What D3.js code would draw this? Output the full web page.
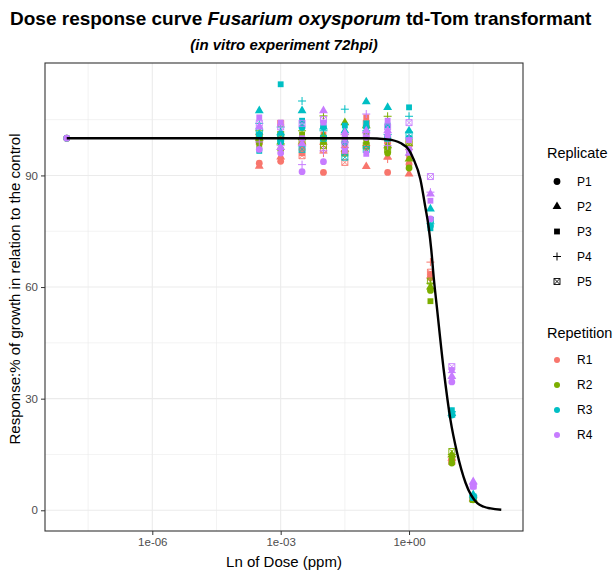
<!DOCTYPE html>
<html>
<head>
<meta charset="utf-8">
<script src="https://cdn.jsdelivr.net/npm/d3@7"></script>
<style>
  body { margin: 0; background: #fff; }
  text { font-family: "Liberation Sans", Arial, sans-serif; }
</style>
</head>
<body>
<div id="chart"></div>
<script>
//data
const doses = [1e-8, 3.16e-4, 1e-3, 3.16e-3, 1e-2, 3.16e-2, 1e-1, 0.316, 1, 3.16, 10, 31.6];
const replicates = ["P1", "P2", "P3", "P4", "P5"];
const repetitions = ["R1", "R2", "R3", "R4"];

// one row per dose, values for P1..P5 (null = not measured)
const responseR1 = [
    [100, null, null, null, null],
    [93.3, 92.5, 100, 101, 99],
    [93.8, 95, 100, 97, 104],
    [97, 99, 96, 98, 95.3],
    [90.8, 98.9, 101, 96, 97],
    [96, 97, 98, 97.5, 93.5],
    [97.5, 92.4, 105.6, 98, 104],
    [90.8, 95, 99, 94.4, 99.3],
    [93, 90.4, 95, 97, 98.5],
    [62.5, 63, 63.5, 66.7, 64],
    [13.5, 14, 13, 14.5, 13.1],
    [3, 3.2, 2.8, 3.4, 3.1]
];
const responseR2 = [
    [100, null, null, null, null],
    [99, 100, 98, 102, 100.5],
    [97, 99, 98.9, 100, 101],
    [100, 100.2, 101, 102, 99],
    [100, 100.7, 99, 106, 98],
    [99, 104.2, 100, 101, 96],
    [101.5, 103.4, 99, 100, 98],
    [96, 98, 97.5, 105.9, 97],
    [92, 94.4, 96, 98, 99],
    [59.1, 60, 56.2, 61, 61.6],
    [12.7, 14.9, 14, 15, 15.8],
    [2.8, 3, 3.1, 3.3, 2.9]
];
const responseR3 = [
    [100, null, null, null, null],
    [101, 107.4, 96.6, 104, 102],
    [99, 101.5, 114.5, 103, 100],
    [102.9, 107.4, 104.7, 110, 97],
    [103, 103, 104, 102, 100],
    [98.9, 102, 103.4, 107.8, 94.9],
    [103, 109.8, 104, 102, 97],
    [100, 108.3, 103.4, 101, 100],
    [100, 102, 108.3, 105.9, 101],
    [76.5, 81, 75.8, 77, 78],
    [25.6, 26, 26.9, 26.5, 25.8],
    [3.5, 4.2, 3.3, 4, 3.6]
];
const responseR4 = [
    [100, null, null, null, null],
    [97, 103, 105.6, 99, 104],
    [96, 97.5, 104.2, 98, 103],
    [91, 98.5, 100, 92.9, 104],
    [93.7, 107.4, 104.2, 96.6, 105],
    [100, 101.5, 96.6, 99, 98],
    [100.2, 102, 95.8, 106.5, 101],
    [100.7, 102, 104.7, 98, 103],
    [97, 96, 99.5, 100, 104.2],
    [78.3, 85, 83.2, 85.5, 89.7],
    [34.5, 36, 37.7, 37, 38.6],
    [6.4, 7.7, 6.8, 7, 6.5]
];

// fitted dose response curve
const curveDose = [1e-8, 1e-2, 0.1, 0.316, 0.631, 1, 1.26, 1.84, 2.4, 2.88, 3.31, 3.78, 4.53, 6.46, 9.29, 13.3, 20.9, 39.3, 56, 80.4, 143];
const curveResponse = [100, 100, 100, 99.7, 98.7, 96.8, 94.5, 89, 81.5, 76, 70, 62.5, 54, 37.7, 24.3, 15.4, 7.4, 1.9, 0.95, 0.5, 0.15];

const xTicks = [1e-6, 1e-3, 1];
const xMinor = [Math.pow(10, -7.5), Math.pow(10, -4.5), Math.pow(10, -1.5), Math.pow(10, 1.5)];
const yTicks = [0, 30, 60, 90];
const yMinor = [15, 45, 75, 105];

const colors = ["#F8766D", "#7CAE00", "#00BFC4", "#C77CFF"];

//setup
var panel = {
        left: 45,
        top: 63,
        right: 523,
        bottom: 531
    },
    width = panel.right - panel.left,
    height = panel.bottom - panel.top;

const svg = d3.select("#chart").append("svg")
    .attr("width", 613)
    .attr("height", 571);

const g = svg.append("g")
    .attr("transform", "translate(" + panel.left + "," + panel.top + ")");

// flatten points
const allSeries = [responseR1, responseR2, responseR3, responseR4];
let points = [];
allSeries.forEach((rows, ri) => {
    rows.forEach((row, di) => {
        row.forEach((v, pi) => {
            if (v !== null) points.push({dose: doses[di], value: v, rep: ri, repl: replicates[pi]});
        });
    });
});

// scales with ggplot style 5% expansion
const logExt = d3.extent(doses.concat(curveDose), d => Math.log10(d));
const lx = (logExt[1] - logExt[0]) * 0.05;
const x = d3.scaleLog()
    .domain([Math.pow(10, logExt[0] - lx), Math.pow(10, logExt[1] + lx)])
    .range([0, width]);

const yExt = d3.extent(points.map(d => d.value).concat(curveResponse));
const ly = (yExt[1] - yExt[0]) * 0.05;
const y = d3.scaleLinear()
    .domain([yExt[0] - ly, yExt[1] + ly])
    .range([height, 0]);

// grid
g.selectAll(".minorY").data(yMinor).enter().append("line")
    .attr("x1", 0).attr("x2", width)
    .attr("y1", d => y(d)).attr("y2", d => y(d))
    .attr("stroke", "#ebebeb").attr("stroke-width", 0.6);
g.selectAll(".minorX").data(xMinor).enter().append("line")
    .attr("y1", 0).attr("y2", height)
    .attr("x1", d => x(d)).attr("x2", d => x(d))
    .attr("stroke", "#ebebeb").attr("stroke-width", 0.6);
g.selectAll(".majorY").data(yTicks).enter().append("line")
    .attr("x1", 0).attr("x2", width)
    .attr("y1", d => y(d)).attr("y2", d => y(d))
    .attr("stroke", "#ebebeb").attr("stroke-width", 1.1);
g.selectAll(".majorX").data(xTicks).enter().append("line")
    .attr("y1", 0).attr("y2", height)
    .attr("x1", d => x(d)).attr("x2", d => x(d))
    .attr("stroke", "#ebebeb").attr("stroke-width", 1.1);

// points
function drawShape(sel, shape, color) {
    if (shape === "P1") {
        sel.append("circle").attr("r", 3.4).attr("fill", color);
    } else if (shape === "P2") {
        sel.append("path").attr("d", d3.symbol(d3.symbolTriangle, 34)()).attr("fill", color);
    } else if (shape === "P3") {
        sel.append("path").attr("d", d3.symbol(d3.symbolSquare, 34)()).attr("fill", color);
    } else if (shape === "P4") {
        sel.append("path").attr("d", "M-4,0H4M0,-4V4")
            .attr("stroke", color).attr("stroke-width", 1).attr("fill", "none");
    } else {
        sel.append("path").attr("d", "M-3,-3H3V3H-3ZM-3,-3L3,3M3,-3L-3,3")
            .attr("stroke", color).attr("stroke-width", 0.9).attr("fill", "none");
    }
}

points.forEach(p => {
    const s = g.append("g")
        .attr("transform", "translate(" + x(p.dose) + "," + y(p.value) + ")");
    drawShape(s, p.repl, colors[p.rep]);
});

// curve
const curveData = curveDose.map((d, i) => ({dose: d, value: curveResponse[i]}));
g.append("path")
    .datum(curveData)
    .attr("fill", "none")
    .attr("stroke", "#000")
    .attr("stroke-width", 2.4)
    .attr("d", d3.line()
        .x(d => x(d.dose))
        .y(d => y(d.value))
        .curve(d3.curveMonotoneX));

// panel border
g.append("rect")
    .attr("width", width).attr("height", height)
    .attr("fill", "none").attr("stroke", "#333").attr("stroke-width", 1.1);

// axes
function fmtExp(d) {
    const e = Math.round(Math.log10(d));
    return "1e" + (e < 0 ? "-" : "+") + String(Math.abs(e)).padStart(2, "0");
}
const xAxis = g.append("g")
    .attr("transform", "translate(0," + height + ")")
    .call(d3.axisBottom(x).tickValues(xTicks).tickFormat(fmtExp).tickSize(4).tickPadding(3));
const yAxis = g.append("g")
    .call(d3.axisLeft(y).tickValues(yTicks).tickSize(4).tickPadding(3));
[xAxis, yAxis].forEach(a => {
    a.select(".domain").remove();
    a.selectAll("line").attr("stroke", "#333");
    a.selectAll("text").attr("fill", "#4d4d4d")
        .style("font-size", "11.5px")
        .style("font-family", "Liberation Sans, Arial, sans-serif");
});

// titles
const title = svg.append("text")
    .attr("x", 10).attr("y", 25)
    .style("font-size", "19px").style("font-weight", "bold");
title.append("tspan").text("Dose response curve ");
title.append("tspan").style("font-style", "italic").text("Fusarium oxysporum");
title.append("tspan").text(" td-Tom transformant");

svg.append("text")
    .attr("x", panel.left + width / 2).attr("y", 50)
    .attr("text-anchor", "middle")
    .style("font-size", "15px").style("font-weight", "bold").style("font-style", "italic")
    .text("(in vitro experiment 72hpi)");

svg.append("text")
    .attr("x", panel.left + width / 2).attr("y", 567)
    .attr("text-anchor", "middle")
    .style("font-size", "15px")
    .text("Ln of Dose (ppm)");

svg.append("text")
    .attr("transform", "translate(20,289) rotate(-90)")
    .attr("text-anchor", "middle")
    .style("font-size", "15px")
    .text("Response:% of growth in relation to the control");

// legends
const leg1 = svg.append("g").attr("transform", "translate(547,0)");
leg1.append("text").attr("x", 0).attr("y", 158).style("font-size", "14.5px").text("Replicate");
replicates.forEach((r, i) => {
    const cy = 181.5 + i * 25;
    const s = leg1.append("g").attr("transform", "translate(10," + cy + ")");
    drawShape(s, r, "#000");
    leg1.append("text").attr("x", 30).attr("y", cy + 4.2).style("font-size", "12px").text(r);
});

const leg2 = svg.append("g").attr("transform", "translate(547,0)");
leg2.append("text").attr("x", 0).attr("y", 338).style("font-size", "14.5px").text("Repetition");
repetitions.forEach((r, i) => {
    const cy = 360 + i * 25;
    leg2.append("circle").attr("cx", 10).attr("cy", cy).attr("r", 3).attr("fill", colors[i]);
    leg2.append("text").attr("x", 30).attr("y", cy + 4.2).style("font-size", "12px").text(r);
});
</script>
</body>
</html>
